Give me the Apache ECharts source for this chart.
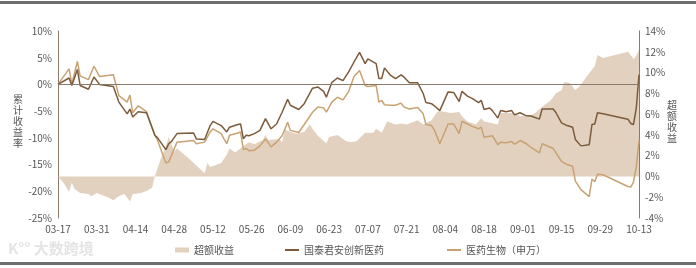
<!DOCTYPE html>
<html>
<head>
<meta charset="utf-8">
<script src="https://cdn.jsdelivr.net/npm/echarts@6/dist/echarts.min.js"></script>
<style>
  html, body { margin: 0; padding: 0; background: #fff; }
  #main { width: 696px; height: 268px; }
</style>
</head>
<body>
<div id="main"></div>
<script>
  // 交易日（2025年），两条累计收益曲线共用
  var lineDates = ['03-17','03-21','03-22','03-24','03-25','03-28','03-30','04-01','04-06','04-08',
    '04-11','04-12','04-13','04-15','04-18','04-21','04-22','04-25','04-26','04-27',
    '04-29','05-05','05-06','05-09','05-11','05-12','05-15','05-16','05-17','05-18',
    '05-21','05-22','05-23','05-24','05-25','05-27','05-29','05-31','06-02','06-04',
    '06-06','06-08','06-09','06-12','06-14','06-17','06-19','06-21','06-22','06-24',
    '06-26','06-28','06-30','07-02','07-04','07-06','07-07','07-10','07-11','07-12',
    '07-13','07-15','07-17','07-19','07-20','07-22','07-25','07-27','07-28','07-30',
    '07-31','08-02','08-05','08-07','08-09','08-10','08-12','08-14','08-16','08-17',
    '08-18','08-20','08-21','08-23','08-24','08-26','08-28','08-29','08-31','09-02',
    '09-04','09-07','09-08','09-12','09-13','09-15','09-17','09-19','09-20','09-22',
    '09-25','09-26','09-27','09-28','09-30','10-09','10-10','10-11','10-12','10-13'];

  // 国泰君安创新医药 累计收益率(%)
  var fundValues = [0, 1.2, -0.2, 2.8, -0.2, -0.9, 1.4, 0, -0.4, -3.3,
    -5.5, -4.6, -6.1, -5.1, -5.3, -9.5, -10.0, -12.2, -11.1, -10.7,
    -9.2, -9.1, -10.2, -10.3, -7.7, -6.9, -7.7, -8.3, -8.9, -8.0,
    -7.5, -7.4, -10.2, -9.5, -9.6, -9.2, -8.6, -6.4, -8.3, -7.4,
    -5.2, -2.8, -3.9, -4.7, -3.6, -0.7, -0.5, -1.3, -2.4, 0.4,
    1.2, 0.7, 2.3, 4.2, 6.0, 3.9, 4.8, 3.9, 1.1, 1.1,
    3.1, 1.8, 1.1, 1.8, 1.4, 0.3, 0.3, -1.7, -3.4, -3.6,
    -4.0, -4.9, -1.4, -1.5, -3.2, -1.3, -2.2, -2.7, -3.4, -3.0,
    -4.7, -4.4, -4.9, -6.3, -4.9, -5.1, -4.9, -5.7, -5.3, -5.8,
    -5.9, -6.5, -4.6, -4.6, -5.3, -7.2, -7.7, -8.0, -10.3, -11.5,
    -11.3, -7.5, -7.4, -5.3, -5.5, -6.5, -7.3, -7.5, -4.5, 1.8];

  // 医药生物（申万） 累计收益率(%)
  var indexValues = [0, 2.9, 0.1, 4.3, 1.6, 0.9, 3.4, 1.5, 1.8, -2.1,
    -3.3, -2.0, -5.3, -4.0, -5.1, -9.5, -10.5, -14.7, -14.5, -13.3,
    -10.8, -10.5, -11.1, -10.8, -8.9, -8.3, -9.2, -10.2, -11.1, -9.5,
    -9.1, -8.9, -12.2, -12.0, -12.4, -12.3, -11.5, -10.2, -11.7, -10.8,
    -9.6, -7.1, -8.6, -9.0, -7.5, -5.2, -4.2, -4.4, -5.2, -3.3,
    -2.4, -2.9, -1.4, 1.5, 2.6, -0.2, -0.4, -0.2, -3.3, -3.0,
    -3.8, -3.9, -3.9, -3.5, -4.2, -4.6, -4.3, -5.5, -7.5, -7.7,
    -8.5, -11.1, -7.4, -7.4, -9.2, -6.9, -7.4, -7.9, -8.3, -8.0,
    -9.9, -9.7, -9.6, -11.3, -10.8, -10.9, -10.7, -11.2, -10.5, -11.0,
    -11.8, -12.8, -11.1, -12.0, -12.8, -14.4, -15.0, -15.3, -18.1, -19.7,
    -21.0, -17.7, -18.2, -16.8, -16.9, -19.1, -19.2, -18.3, -15.5, -10.5];

  // 超额收益(%)
  var excessDates = ['03-17','03-19','03-21','03-22','03-23','03-25','03-28','03-29','03-31','04-04',
    '04-06','04-08','04-10','04-12','04-13','04-16','04-18','04-20','04-21','04-23',
    '04-25','04-26','04-28','04-29','05-03','05-09','05-10','05-11','05-15','05-17',
    '05-18','05-20','05-23','05-25','05-27','05-30','05-31','06-01','06-05','06-06',
    '06-07','06-11','06-14','06-16','06-17','06-19','06-22','06-23','06-26','06-29',
    '07-01','07-03','07-06','07-09','07-10','07-12','07-14','07-17','07-19','07-21',
    '07-25','07-27','07-30','08-01','08-02','08-06','08-09','08-10','08-12','08-15',
    '08-17','08-18','08-23','08-24','08-29','08-31','09-04','09-05','09-08','09-11',
    '09-13','09-15','09-16','09-18','09-20','09-22','09-24','09-27','09-28','09-30',
    '10-09','10-10','10-11','10-12','10-13'];
  var excessValues = [0, -0.6, -1.5, -0.6, -1.2, -1.6, -1.7, -1.9, -1.6, -2.0,
    -2.3, -1.9, -1.7, -2.4, -1.7, -1.6, -1.4, -1.1, 0, 1.6,
    2.9, 3.8, 2.4, 2.7, 1.8, 0.3, 1.3, 0.9, 1.3, 2.1,
    2.7, 2.3, 2.9, 3.3, 3.1, 3.5, 4.0, 3.5, 3.6, 3.3,
    4.5, 4.1, 4.3, 5.0, 4.6, 3.9, 3.2, 3.8, 4.0, 3.4,
    3.3, 3.4, 4.2, 4.2, 4.6, 4.2, 5.3, 5.0, 5.1, 5.0,
    5.4, 5.0, 5.4, 6.2, 6.3, 6.1, 6.2, 5.8, 5.3, 5.0,
    5.6, 5.3, 5.0, 6.1, 6.1, 5.8, 5.9, 6.0, 6.7, 7.3,
    8.0, 8.3, 9.1, 9.0, 8.3, 8.8, 9.6, 10.6, 11.7, 11.4,
    12.0, 11.7, 11.3, 11.6, 12.2];

  var startDate = '03-17', endDate = '10-13';
  var seriesNames = ['超额收益', '国泰君安创新医药', '医药生物（申万）'];
  var leftName = '累计收益率', rightName = '超额收益';

  var DAY = 86400000;
  function toUTC(s) {
    var p = s.split('-');
    return Date.UTC(2025, +p[0] - 1, +p[1]);
  }
  var base = toUTC(startDate);
  function dayOf(s) { return Math.round((toUTC(s) - base) / DAY); }
  function pairs(dates, vals) {
    return dates.map(function (d, i) { return [dayOf(d), vals[i]]; });
  }
  function fmtDay(v) {
    var d = new Date(base + v * DAY);
    var m = d.getUTCMonth() + 1, dd = d.getUTCDate();
    return (m < 10 ? '0' : '') + m + '-' + (dd < 10 ? '0' : '') + dd;
  }

  var axisColor = '#8a7a6a';
  var txt = '#555';
  var font = '"Noto Sans CJK SC", sans-serif';

  // 竖排轴名：一个字一个 text
  function verticalText(s, x, y, step) {
    return s.split('').map(function (ch, i) {
      return { type: 'text', x: x, y: y + i * step,
        style: { text: ch, fill: txt, fontSize: 10, fontFamily: font, align: 'center', verticalAlign: 'top' } };
    });
  }

  var myChart = echarts.init(document.getElementById('main'));
  var option = {
    animation: false,
    textStyle: { fontFamily: font },
    grid: { left: 58, right: 57, top: 31, bottom: 50 },
    legend: [
      { left: 170, top: 240, itemWidth: 14, itemHeight: 6, textStyle: { fontSize: 10, color: txt },
        data: [{ name: seriesNames[0], icon: 'path://M0,0H14V5H0Z' }] },
      { left: 280, top: 240, itemWidth: 14, itemHeight: 6, textStyle: { fontSize: 10, color: txt },
        data: [{ name: seriesNames[1], icon: 'path://M0,0H14V2H0Z' }] },
      { left: 442, top: 240, itemWidth: 14, itemHeight: 6, textStyle: { fontSize: 10, color: txt },
        data: [{ name: seriesNames[2], icon: 'path://M0,0H14V2H0Z' }] }
    ],
    xAxis: {
      type: 'value',
      min: 0,
      max: dayOf(endDate),
      interval: 14,
      axisLine: { show: false },
      axisTick: { show: false },
      splitLine: { show: false },
      axisLabel: { color: txt, fontSize: 10, margin: 6, formatter: fmtDay }
    },
    yAxis: [
      {
        type: 'value', min: -25, max: 10, interval: 5,
        axisLine: { show: true, lineStyle: { color: axisColor, width: 1 } },
        axisTick: { show: false },
        splitLine: { show: false },
        axisLabel: { color: txt, fontSize: 10, margin: 6, formatter: '{value}%' }
      },
      {
        type: 'value', min: -4, max: 14, interval: 2, position: 'right',
        axisLine: { show: true, lineStyle: { color: axisColor, width: 1 } },
        axisTick: { show: false },
        splitLine: { show: false },
        axisLabel: { color: txt, fontSize: 10, margin: 6, formatter: '{value}%' }
      }
    ],
    series: [
      {
        name: seriesNames[0],
        type: 'line',
        yAxisIndex: 1,
        symbol: 'none',
        itemStyle: { color: '#e2d1be' },
        lineStyle: { width: 0 },
        areaStyle: { color: '#e2d1be', opacity: 1 },
        z: 1,
        data: pairs(excessDates, excessValues)
      },
      {
        name: seriesNames[2],
        type: 'line',
        yAxisIndex: 0,
        symbol: 'none',
        itemStyle: { color: '#c9a273' },
        lineStyle: { color: '#c9a273', width: 1.5 },
        z: 3,
        data: pairs(lineDates, indexValues)
      },
      {
        name: seriesNames[1],
        type: 'line',
        yAxisIndex: 0,
        symbol: 'none',
        itemStyle: { color: '#7b5b3c' },
        lineStyle: { color: '#7b5b3c', width: 1.5 },
        z: 4,
        data: pairs(lineDates, fundValues),
        markLine: {
          silent: true,
          symbol: 'none',
          label: { show: false },
          lineStyle: { color: axisColor, type: 'solid', width: 1 },
          data: [{ yAxis: 0 }]
        }
      }
    ],
    graphic: [
      { type: 'rect', left: 0, top: 1, shape: { width: 696, height: 3 }, style: { fill: '#6e6e6e' } },
      { type: 'rect', left: 0, top: 262, shape: { width: 696, height: 3 }, style: { fill: '#6e6e6e' } },
      { type: 'text', left: 8, top: 241, style: { text: 'K°° 大数跨境', fill: '#e4e4e4', fontSize: 15, fontWeight: 'bold', fontFamily: font } }
    ].concat(verticalText(leftName, 18, 94, 11), verticalText(rightName, 672, 100, 11))
  };
  myChart.setOption(option);
  window.addEventListener('resize', function () { myChart.resize(); });
</script>
</body>
</html>
